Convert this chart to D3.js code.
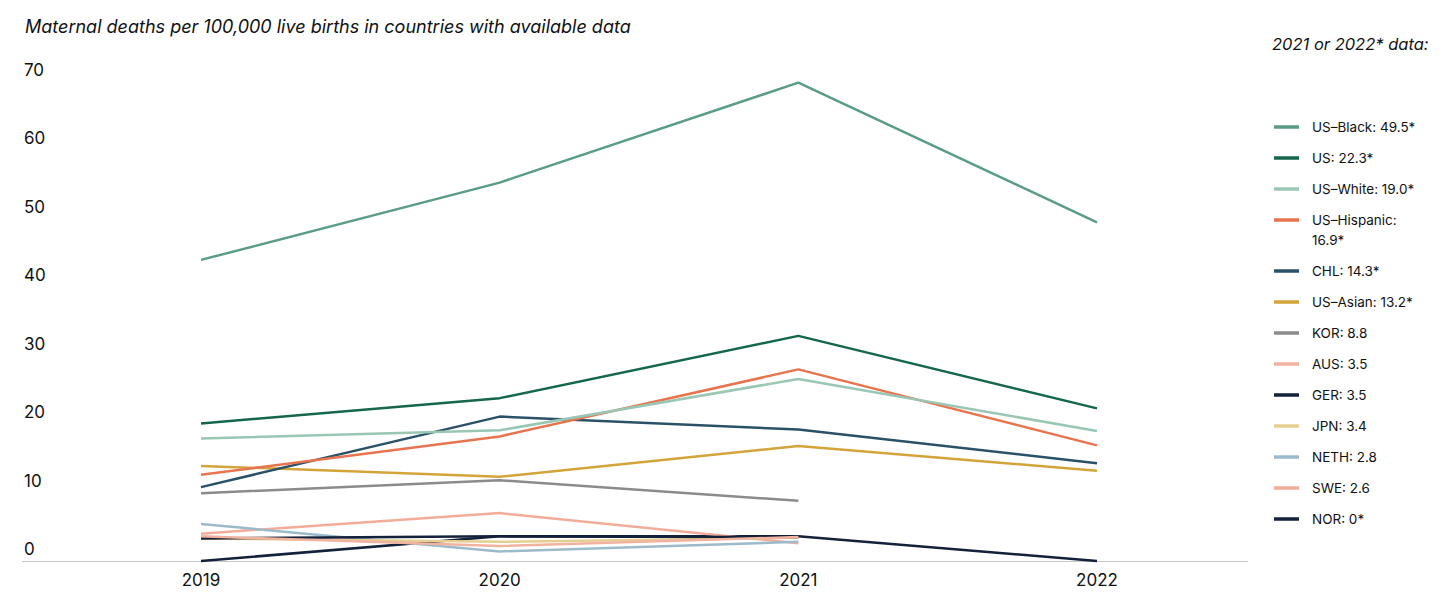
<!DOCTYPE html>
<html>
<head>
<meta charset="utf-8">
<script src="https://cdn.jsdelivr.net/npm/d3@7"></script>
<style>
  html, body { margin: 0; padding: 0; background: #fff; }
  svg { display: block; font-family: Inter, "Noto Sans", sans-serif; }
</style>
</head>
<body>
<svg id="chart" width="1456" height="613"></svg>
<script>
const years = [2019, 2020, 2021, 2022];
const yTicks = [0, 10, 20, 30, 40, 50, 60, 70];

const seriesNames = ["US–Black", "US", "US–White", "US–Hispanic", "CHL", "US–Asian", "KOR", "AUS", "GER", "JPN", "NETH", "SWE", "NOR"];
const legendLabels = ["US–Black: 49.5*", "US: 22.3*", "US–White: 19.0*", "US–Hispanic:\n16.9*", "CHL: 14.3*", "US–Asian: 13.2*", "KOR: 8.8", "AUS: 3.5", "GER: 3.5", "JPN: 3.4", "NETH: 2.8", "SWE: 2.6", "NOR: 0*"];
const seriesColors = ["#5a9d84", "#15674a", "#9ac6b4", "#e8744f", "#2b5169", "#d3a43a", "#8b8b8b", "#f2b2a0", "#14213a", "#e5cf90", "#9dbacb", "#f3ac99", "#14213a"];

const usBlack    = [44.0, 55.3, 69.9, 49.5];
const usTotal    = [20.1, 23.8, 32.9, 22.3];
const usWhite    = [17.9, 19.1, 26.6, 19.0];
const usHispanic = [12.6, 18.2, 28.0, 16.9];
const chl        = [10.8, 21.1, 19.2, 14.3];
const usAsian    = [13.9, 12.3, 16.8, 13.2];
const kor        = [9.9, 11.8, 8.8, null];
const aus        = [3.6, 2.2, 3.5, null];
const ger        = [3.3, 3.6, 3.5, null];
const jpn        = [3.3, 2.8, 3.4, null];
const neth       = [5.4, 1.4, 2.8, null];
const swe        = [4.0, 7.0, 2.6, null];
const nor        = [0.0, 3.6, 3.6, 0.0];

const seriesValues = [usBlack, usTotal, usWhite, usHispanic, chl, usAsian, kor, aus, ger, jpn, neth, swe, nor];

const svg = d3.select("#chart");

const x = d3.scalePoint().domain(years).range([201, 1097]);
const y = d3.scaleLinear().domain([0, 70]).range([561, 82]);

// title
svg.append("text")
  .attr("x", 25).attr("y", 33)
  .attr("font-size", 18).attr("font-style", "italic")
  .attr("fill", "#111")
  .text("Maternal deaths per 100,000 live births in countries with available data");

// y tick labels
svg.append("g").selectAll("text").data(yTicks).join("text")
  .attr("x", 24).attr("y", d => y(d) - 6)
  .attr("font-size", 17).attr("fill", "#111")
  .text(d => d);

// x axis line
svg.append("line")
  .attr("x1", 22).attr("x2", 1248)
  .attr("y1", y(0) + 0.5).attr("y2", y(0) + 0.5)
  .attr("stroke", "#c8c8c8").attr("stroke-width", 1);

// x labels
svg.append("g").selectAll("text").data(years).join("text")
  .attr("x", d => x(d)).attr("y", 586)
  .attr("text-anchor", "middle")
  .attr("font-size", 17).attr("fill", "#111")
  .text(d => d);

// lines (draw in reverse so top-legend series sit on top)
const line = d3.line()
  .defined(d => d.v !== null)
  .x(d => x(d.year))
  .y(d => y(d.v));

const order = d3.range(seriesNames.length).reverse();
svg.append("g").selectAll("path").data(order).join("path")
  .attr("d", i => line(years.map((yr, j) => ({ year: yr, v: seriesValues[i][j] }))))
  .attr("fill", "none")
  .attr("stroke", i => seriesColors[i])
  .attr("stroke-width", 2.5)
  .attr("stroke-linejoin", "round");

// legend
svg.append("text")
  .attr("x", 1272).attr("y", 50)
  .attr("font-size", 16.5).attr("font-style", "italic")
  .attr("fill", "#111")
  .text("2021 or 2022* data:");

let ly = 127;
const legendY = [];
legendLabels.forEach((lab, i) => {
  legendY.push(ly);
  ly += 31 + (lab.includes("\n") ? 20 : 0);
});

const lg = svg.append("g").selectAll("g").data(seriesNames).join("g")
  .attr("transform", (d, i) => `translate(1274,${legendY[i]})`);
lg.append("line")
  .attr("x1", 0).attr("x2", 25).attr("y1", 0).attr("y2", 0)
  .attr("stroke", (d, i) => seriesColors[i]).attr("stroke-width", 3.5);
lg.append("text")
  .attr("x", 38).attr("y", 5)
  .attr("font-size", 13.5).attr("fill", "#111")
  .each(function(d, i) {
    const parts = legendLabels[i].split("\n");
    d3.select(this).selectAll("tspan").data(parts).join("tspan")
      .attr("x", 38).attr("dy", (p, k) => k === 0 ? 0 : 20)
      .text(p => p);
  });
</script>
</body>
</html>
